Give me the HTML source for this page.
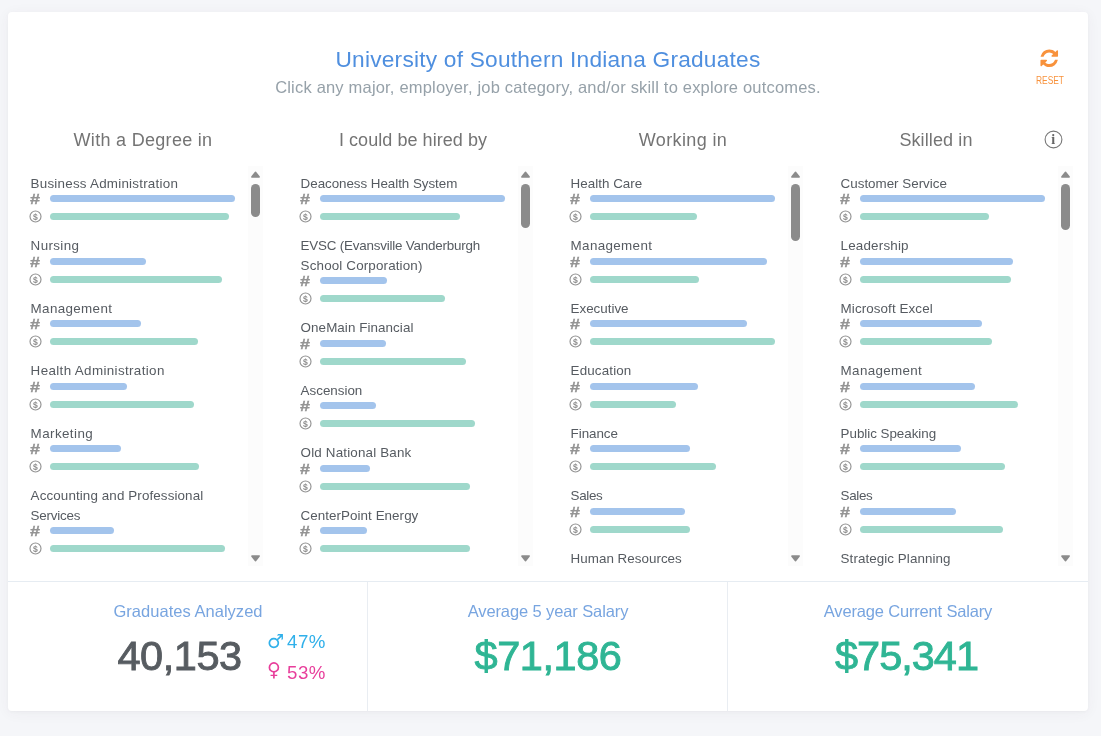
<!DOCTYPE html>
<html lang="en">
<head>
<meta charset="utf-8">
<title>University of Southern Indiana Graduates</title>
<style>
*{box-sizing:border-box;margin:0;padding:0}
html,body{width:1101px;height:736px;overflow:hidden}
body{background:#f5f6f9;font-family:"Liberation Sans",sans-serif;color:#575c61;position:relative}
.card{position:absolute;left:8px;top:12px;width:1080px;height:699px;background:#fff;border-radius:4px;box-shadow:0 1px 3px rgba(69,65,78,.04),0 2px 14px rgba(69,65,78,.05)}
.title{position:absolute;left:0;width:1080px;top:33px;text-align:center;font-size:22.7px;line-height:28px;color:#4f8fdf;font-weight:400;white-space:nowrap;letter-spacing:.22px}
.subtitle{position:absolute;left:0;width:1080px;top:64px;text-align:center;font-size:16.5px;line-height:22px;color:#96a1a9;white-space:nowrap;letter-spacing:.19px}
.reset{position:absolute;left:1021.7px;top:35.8px;width:40px;text-align:center;color:#f8923c}
.reset svg{display:block;margin:0 auto}
.reset span{display:block;font-size:10px;line-height:10px;margin-top:8px;letter-spacing:0;transform:scaleX(.84)}
.cols{position:absolute;left:0;top:0;width:1080px}
.col{position:absolute;top:0;width:270px}
.col h2{position:absolute;top:115px;left:0;width:270px;text-align:center;font-size:18px;line-height:26px;font-weight:400;color:#747474;white-space:nowrap}
.info{position:absolute;left:1036.4px;top:117.5px;width:19px;height:19px}
.list{position:absolute;top:154px;left:15px;width:240px;height:400px;overflow:hidden;padding-top:7px}
.track{position:absolute;top:154px;left:240px;width:15px;height:400px;background:#fcfcfc}
.track i,.track svg{position:absolute;left:3px;width:9px;display:block}
.track .up{top:5px;height:7px}
.track .dn{top:389px;height:7px}
.track .thumb{top:18px;background:#8b8b8b;border-radius:4.5px}
.item{padding-left:8px;margin-bottom:10px}
.name{font-size:13.4px;line-height:19.5px;color:#565b61;white-space:nowrap;position:relative;top:.8px;left:-.4px}
.row{height:18px;position:relative}
.row.n{margin-top:-3px}
.row b{position:absolute;left:-2px;top:0;width:14px;height:18px;font-weight:400;color:#999;text-align:center}
.hash{font-size:15px;line-height:18px;font-weight:700!important;transform:scaleX(1.2);color:#949494!important;-webkit-text-stroke:.35px #949494;left:-2.6px!important;top:.5px!important}
.dol svg{position:absolute;left:.3px;top:2.5px}
.bar{position:absolute;left:19px;top:5.5px;height:7px;border-radius:3.5px}
.n .bar{background:#a3c4ec}
.s .bar{background:#9fd8cb}
.stats{position:absolute;left:0;top:569px;width:1080px;height:130px;border-top:1px solid #e6ecf2}
.stat{position:absolute;top:0;width:360px;height:129px;text-align:center}
.stat+.stat{border-left:1px solid #e9edf2}
.stat h3{position:absolute;left:0;width:360px;top:17.3px;font-size:16.5px;line-height:24px;font-weight:400;color:#78a5e0;white-space:nowrap}
.big{position:absolute;left:0;width:360px;top:46.2px;font-size:41.5px;letter-spacing:-.45px;line-height:56px;font-weight:400;color:#2fb594;-webkit-text-stroke:.9px #2fb594;white-space:nowrap}
.num{color:#575c61;-webkit-text-stroke:.9px #575c61;text-align:left;left:109.5px;width:auto;letter-spacing:-.47px}
.gender{position:absolute;left:259px;font-size:18.7px;line-height:24px;white-space:nowrap;text-align:left;letter-spacing:.5px}
.gender.m{top:48.4px;color:#30b0ea}
.gender.f{top:78.6px;color:#e83e9b}
.gender .sym{position:absolute;left:0;top:-2px;font-family:"DejaVu Sans",sans-serif;font-size:19px;letter-spacing:0}
.gender .pct{position:absolute;left:20px;top:0}
.gender.m .sym{top:-1px}
.gender.f .sym{top:-3.2px}
</style>
</head>
<body>
<div class="card">
  <h1 class="title">University of Southern Indiana Graduates</h1>
  <p class="subtitle">Click any major, employer, job category, and/or skill to explore outcomes.</p>
  <div class="reset">
    <svg width="20.5" height="20.5" viewBox="0 0 1792 1792"><path fill="#f8923c" d="M1639 1056q0 5-1 7-64 268-268 434.500t-478 166.500q-146 0-282.500-55t-243.500-157l-129 129q-19 19-45 19t-45-19-19-45v-448q0-26 19-45t45-19h448q26 0 45 19t19 45-19 45l-137 137q71 66 161 102t187 36q134 0 250-65t186-179q11-17 53-117 8-23 30-23h192q13 0 22.500 9.500t9.500 22.500zm25-800v448q0 26-19 45t-45 19h-448q-26 0-45-19t-19-45 19-45l138-138q-148-137-349-137-134 0-250 65t-186 179q-11 17-53 117-8 23-30 23h-199q-13 0-22.500-9.500t-9.500-22.500v-7q65-268 270-434.500t480-166.500q146 0 284 55.500t245 156.500l130-129q19-19 45-19t45 19 19 45z"/></svg>
    <span>RESET</span>
  </div>
  <div class="info"><svg width="19" height="19" viewBox="0 0 19 19"><circle cx="9.5" cy="9.5" r="8.4" fill="none" stroke="#777" stroke-width="1.1"/><text x="9.2" y="13.8" text-anchor="middle" font-family="Liberation Serif, serif" font-weight="700" font-size="14" fill="#666">i</text></svg></div>
  <div class="cols">
    <section class="col c1" style="left:0px">
  <h2 style="letter-spacing:.3px">With a Degree in</h2>
  <div class="list">
    <div class="item"><div class="name"><span style="letter-spacing:0.23px">Business Administration</span></div>
      <div class="row n"><b class="hash">#</b><span class="bar" style="width:185px"></span></div>
      <div class="row s"><b class="dol"><svg viewBox="0 0 13 13" width="13" height="13"><circle cx="6.5" cy="6.5" r="5.5" fill="none" stroke="#939393" stroke-width="1.15"/><text x="6.5" y="9.5" text-anchor="middle" font-size="8.6" font-weight="700" fill="#8e8e8e" font-family="Liberation Sans, sans-serif">$</text></svg></b><span class="bar" style="width:179px"></span></div></div>
    <div class="item"><div class="name"><span style="letter-spacing:0.37px">Nursing</span></div>
      <div class="row n"><b class="hash">#</b><span class="bar" style="width:96px"></span></div>
      <div class="row s"><b class="dol"><svg viewBox="0 0 13 13" width="13" height="13"><circle cx="6.5" cy="6.5" r="5.5" fill="none" stroke="#939393" stroke-width="1.15"/><text x="6.5" y="9.5" text-anchor="middle" font-size="8.6" font-weight="700" fill="#8e8e8e" font-family="Liberation Sans, sans-serif">$</text></svg></b><span class="bar" style="width:172px"></span></div></div>
    <div class="item"><div class="name"><span style="letter-spacing:0.35px">Management</span></div>
      <div class="row n"><b class="hash">#</b><span class="bar" style="width:91px"></span></div>
      <div class="row s"><b class="dol"><svg viewBox="0 0 13 13" width="13" height="13"><circle cx="6.5" cy="6.5" r="5.5" fill="none" stroke="#939393" stroke-width="1.15"/><text x="6.5" y="9.5" text-anchor="middle" font-size="8.6" font-weight="700" fill="#8e8e8e" font-family="Liberation Sans, sans-serif">$</text></svg></b><span class="bar" style="width:148px"></span></div></div>
    <div class="item"><div class="name"><span style="letter-spacing:0.36px">Health Administration</span></div>
      <div class="row n"><b class="hash">#</b><span class="bar" style="width:77px"></span></div>
      <div class="row s"><b class="dol"><svg viewBox="0 0 13 13" width="13" height="13"><circle cx="6.5" cy="6.5" r="5.5" fill="none" stroke="#939393" stroke-width="1.15"/><text x="6.5" y="9.5" text-anchor="middle" font-size="8.6" font-weight="700" fill="#8e8e8e" font-family="Liberation Sans, sans-serif">$</text></svg></b><span class="bar" style="width:144px"></span></div></div>
    <div class="item"><div class="name"><span style="letter-spacing:0.41px">Marketing</span></div>
      <div class="row n"><b class="hash">#</b><span class="bar" style="width:71px"></span></div>
      <div class="row s"><b class="dol"><svg viewBox="0 0 13 13" width="13" height="13"><circle cx="6.5" cy="6.5" r="5.5" fill="none" stroke="#939393" stroke-width="1.15"/><text x="6.5" y="9.5" text-anchor="middle" font-size="8.6" font-weight="700" fill="#8e8e8e" font-family="Liberation Sans, sans-serif">$</text></svg></b><span class="bar" style="width:149px"></span></div></div>
    <div class="item"><div class="name"><span style="letter-spacing:0.11px">Accounting and Professional</span><br><span style="letter-spacing:-0.22px">Services</span></div>
      <div class="row n"><b class="hash">#</b><span class="bar" style="width:64px"></span></div>
      <div class="row s"><b class="dol"><svg viewBox="0 0 13 13" width="13" height="13"><circle cx="6.5" cy="6.5" r="5.5" fill="none" stroke="#939393" stroke-width="1.15"/><text x="6.5" y="9.5" text-anchor="middle" font-size="8.6" font-weight="700" fill="#8e8e8e" font-family="Liberation Sans, sans-serif">$</text></svg></b><span class="bar" style="width:175px"></span></div></div>
  </div>
  <div class="track"><svg class="up" viewBox="0 0 9 7"><path d="M4.5 1.5 7.9 5.9H1.1z" fill="#8b8b8b" stroke="#8b8b8b" stroke-width="1.9" stroke-linejoin="round"/></svg><i class="thumb" style="height:33px"></i><svg class="dn" viewBox="0 0 9 7"><path d="M4.5 5.5 7.9 1.1H1.1z" fill="#8b8b8b" stroke="#8b8b8b" stroke-width="1.9" stroke-linejoin="round"/></svg></div>
</section>
<section class="col c2" style="left:270px">
  <h2 style="letter-spacing:.06px">I could be hired by</h2>
  <div class="list">
    <div class="item"><div class="name"><span style="letter-spacing:-0.05px">Deaconess Health System</span></div>
      <div class="row n"><b class="hash">#</b><span class="bar" style="width:185px"></span></div>
      <div class="row s"><b class="dol"><svg viewBox="0 0 13 13" width="13" height="13"><circle cx="6.5" cy="6.5" r="5.5" fill="none" stroke="#939393" stroke-width="1.15"/><text x="6.5" y="9.5" text-anchor="middle" font-size="8.6" font-weight="700" fill="#8e8e8e" font-family="Liberation Sans, sans-serif">$</text></svg></b><span class="bar" style="width:140px"></span></div></div>
    <div class="item"><div class="name"><span style="letter-spacing:-0.20px">EVSC (Evansville Vanderburgh</span><br><span style="letter-spacing:0.15px">School Corporation)</span></div>
      <div class="row n"><b class="hash">#</b><span class="bar" style="width:67px"></span></div>
      <div class="row s"><b class="dol"><svg viewBox="0 0 13 13" width="13" height="13"><circle cx="6.5" cy="6.5" r="5.5" fill="none" stroke="#939393" stroke-width="1.15"/><text x="6.5" y="9.5" text-anchor="middle" font-size="8.6" font-weight="700" fill="#8e8e8e" font-family="Liberation Sans, sans-serif">$</text></svg></b><span class="bar" style="width:125px"></span></div></div>
    <div class="item"><div class="name"><span style="letter-spacing:0.07px">OneMain Financial</span></div>
      <div class="row n"><b class="hash">#</b><span class="bar" style="width:66px"></span></div>
      <div class="row s"><b class="dol"><svg viewBox="0 0 13 13" width="13" height="13"><circle cx="6.5" cy="6.5" r="5.5" fill="none" stroke="#939393" stroke-width="1.15"/><text x="6.5" y="9.5" text-anchor="middle" font-size="8.6" font-weight="700" fill="#8e8e8e" font-family="Liberation Sans, sans-serif">$</text></svg></b><span class="bar" style="width:146px"></span></div></div>
    <div class="item"><div class="name"><span style="letter-spacing:-0.01px">Ascension</span></div>
      <div class="row n"><b class="hash">#</b><span class="bar" style="width:56px"></span></div>
      <div class="row s"><b class="dol"><svg viewBox="0 0 13 13" width="13" height="13"><circle cx="6.5" cy="6.5" r="5.5" fill="none" stroke="#939393" stroke-width="1.15"/><text x="6.5" y="9.5" text-anchor="middle" font-size="8.6" font-weight="700" fill="#8e8e8e" font-family="Liberation Sans, sans-serif">$</text></svg></b><span class="bar" style="width:155px"></span></div></div>
    <div class="item"><div class="name"><span style="letter-spacing:0.17px">Old National Bank</span></div>
      <div class="row n"><b class="hash">#</b><span class="bar" style="width:50px"></span></div>
      <div class="row s"><b class="dol"><svg viewBox="0 0 13 13" width="13" height="13"><circle cx="6.5" cy="6.5" r="5.5" fill="none" stroke="#939393" stroke-width="1.15"/><text x="6.5" y="9.5" text-anchor="middle" font-size="8.6" font-weight="700" fill="#8e8e8e" font-family="Liberation Sans, sans-serif">$</text></svg></b><span class="bar" style="width:150px"></span></div></div>
    <div class="item"><div class="name"><span style="letter-spacing:0.05px">CenterPoint Energy</span></div>
      <div class="row n"><b class="hash">#</b><span class="bar" style="width:47px"></span></div>
      <div class="row s"><b class="dol"><svg viewBox="0 0 13 13" width="13" height="13"><circle cx="6.5" cy="6.5" r="5.5" fill="none" stroke="#939393" stroke-width="1.15"/><text x="6.5" y="9.5" text-anchor="middle" font-size="8.6" font-weight="700" fill="#8e8e8e" font-family="Liberation Sans, sans-serif">$</text></svg></b><span class="bar" style="width:150px"></span></div></div>
  </div>
  <div class="track"><svg class="up" viewBox="0 0 9 7"><path d="M4.5 1.5 7.9 5.9H1.1z" fill="#8b8b8b" stroke="#8b8b8b" stroke-width="1.9" stroke-linejoin="round"/></svg><i class="thumb" style="height:44px"></i><svg class="dn" viewBox="0 0 9 7"><path d="M4.5 5.5 7.9 1.1H1.1z" fill="#8b8b8b" stroke="#8b8b8b" stroke-width="1.9" stroke-linejoin="round"/></svg></div>
</section>
<section class="col c3" style="left:540px">
  <h2 style="letter-spacing:.38px">Working in</h2>
  <div class="list">
    <div class="item"><div class="name"><span style="letter-spacing:0.02px">Health Care</span></div>
      <div class="row n"><b class="hash">#</b><span class="bar" style="width:185px"></span></div>
      <div class="row s"><b class="dol"><svg viewBox="0 0 13 13" width="13" height="13"><circle cx="6.5" cy="6.5" r="5.5" fill="none" stroke="#939393" stroke-width="1.15"/><text x="6.5" y="9.5" text-anchor="middle" font-size="8.6" font-weight="700" fill="#8e8e8e" font-family="Liberation Sans, sans-serif">$</text></svg></b><span class="bar" style="width:107px"></span></div></div>
    <div class="item"><div class="name"><span style="letter-spacing:0.35px">Management</span></div>
      <div class="row n"><b class="hash">#</b><span class="bar" style="width:177px"></span></div>
      <div class="row s"><b class="dol"><svg viewBox="0 0 13 13" width="13" height="13"><circle cx="6.5" cy="6.5" r="5.5" fill="none" stroke="#939393" stroke-width="1.15"/><text x="6.5" y="9.5" text-anchor="middle" font-size="8.6" font-weight="700" fill="#8e8e8e" font-family="Liberation Sans, sans-serif">$</text></svg></b><span class="bar" style="width:109px"></span></div></div>
    <div class="item"><div class="name"><span style="letter-spacing:-0.02px">Executive</span></div>
      <div class="row n"><b class="hash">#</b><span class="bar" style="width:157px"></span></div>
      <div class="row s"><b class="dol"><svg viewBox="0 0 13 13" width="13" height="13"><circle cx="6.5" cy="6.5" r="5.5" fill="none" stroke="#939393" stroke-width="1.15"/><text x="6.5" y="9.5" text-anchor="middle" font-size="8.6" font-weight="700" fill="#8e8e8e" font-family="Liberation Sans, sans-serif">$</text></svg></b><span class="bar" style="width:185px"></span></div></div>
    <div class="item"><div class="name"><span style="letter-spacing:0.14px">Education</span></div>
      <div class="row n"><b class="hash">#</b><span class="bar" style="width:108px"></span></div>
      <div class="row s"><b class="dol"><svg viewBox="0 0 13 13" width="13" height="13"><circle cx="6.5" cy="6.5" r="5.5" fill="none" stroke="#939393" stroke-width="1.15"/><text x="6.5" y="9.5" text-anchor="middle" font-size="8.6" font-weight="700" fill="#8e8e8e" font-family="Liberation Sans, sans-serif">$</text></svg></b><span class="bar" style="width:86px"></span></div></div>
    <div class="item"><div class="name"><span style="letter-spacing:-0.06px">Finance</span></div>
      <div class="row n"><b class="hash">#</b><span class="bar" style="width:100px"></span></div>
      <div class="row s"><b class="dol"><svg viewBox="0 0 13 13" width="13" height="13"><circle cx="6.5" cy="6.5" r="5.5" fill="none" stroke="#939393" stroke-width="1.15"/><text x="6.5" y="9.5" text-anchor="middle" font-size="8.6" font-weight="700" fill="#8e8e8e" font-family="Liberation Sans, sans-serif">$</text></svg></b><span class="bar" style="width:126px"></span></div></div>
    <div class="item"><div class="name"><span style="letter-spacing:-0.35px">Sales</span></div>
      <div class="row n"><b class="hash">#</b><span class="bar" style="width:95px"></span></div>
      <div class="row s"><b class="dol"><svg viewBox="0 0 13 13" width="13" height="13"><circle cx="6.5" cy="6.5" r="5.5" fill="none" stroke="#939393" stroke-width="1.15"/><text x="6.5" y="9.5" text-anchor="middle" font-size="8.6" font-weight="700" fill="#8e8e8e" font-family="Liberation Sans, sans-serif">$</text></svg></b><span class="bar" style="width:100px"></span></div></div>
    <div class="item"><div class="name"><span style="letter-spacing:0.02px">Human Resources</span></div>
      <div class="row n"><b class="hash">#</b><span class="bar" style="width:90px"></span></div>
      <div class="row s"><b class="dol"><svg viewBox="0 0 13 13" width="13" height="13"><circle cx="6.5" cy="6.5" r="5.5" fill="none" stroke="#939393" stroke-width="1.15"/><text x="6.5" y="9.5" text-anchor="middle" font-size="8.6" font-weight="700" fill="#8e8e8e" font-family="Liberation Sans, sans-serif">$</text></svg></b><span class="bar" style="width:110px"></span></div></div>
  </div>
  <div class="track"><svg class="up" viewBox="0 0 9 7"><path d="M4.5 1.5 7.9 5.9H1.1z" fill="#8b8b8b" stroke="#8b8b8b" stroke-width="1.9" stroke-linejoin="round"/></svg><i class="thumb" style="height:57px"></i><svg class="dn" viewBox="0 0 9 7"><path d="M4.5 5.5 7.9 1.1H1.1z" fill="#8b8b8b" stroke="#8b8b8b" stroke-width="1.9" stroke-linejoin="round"/></svg></div>
</section>
<section class="col c4" style="left:810px">
  <h2 style="letter-spacing:.12px;left:-17px">Skilled in</h2>
  <div class="list">
    <div class="item"><div class="name"><span style="letter-spacing:-0.01px">Customer Service</span></div>
      <div class="row n"><b class="hash">#</b><span class="bar" style="width:185px"></span></div>
      <div class="row s"><b class="dol"><svg viewBox="0 0 13 13" width="13" height="13"><circle cx="6.5" cy="6.5" r="5.5" fill="none" stroke="#939393" stroke-width="1.15"/><text x="6.5" y="9.5" text-anchor="middle" font-size="8.6" font-weight="700" fill="#8e8e8e" font-family="Liberation Sans, sans-serif">$</text></svg></b><span class="bar" style="width:129px"></span></div></div>
    <div class="item"><div class="name"><span style="letter-spacing:0.18px">Leadership</span></div>
      <div class="row n"><b class="hash">#</b><span class="bar" style="width:153px"></span></div>
      <div class="row s"><b class="dol"><svg viewBox="0 0 13 13" width="13" height="13"><circle cx="6.5" cy="6.5" r="5.5" fill="none" stroke="#939393" stroke-width="1.15"/><text x="6.5" y="9.5" text-anchor="middle" font-size="8.6" font-weight="700" fill="#8e8e8e" font-family="Liberation Sans, sans-serif">$</text></svg></b><span class="bar" style="width:151px"></span></div></div>
    <div class="item"><div class="name"><span style="letter-spacing:0.09px">Microsoft Excel</span></div>
      <div class="row n"><b class="hash">#</b><span class="bar" style="width:122px"></span></div>
      <div class="row s"><b class="dol"><svg viewBox="0 0 13 13" width="13" height="13"><circle cx="6.5" cy="6.5" r="5.5" fill="none" stroke="#939393" stroke-width="1.15"/><text x="6.5" y="9.5" text-anchor="middle" font-size="8.6" font-weight="700" fill="#8e8e8e" font-family="Liberation Sans, sans-serif">$</text></svg></b><span class="bar" style="width:132px"></span></div></div>
    <div class="item"><div class="name"><span style="letter-spacing:0.34px">Management</span></div>
      <div class="row n"><b class="hash">#</b><span class="bar" style="width:115px"></span></div>
      <div class="row s"><b class="dol"><svg viewBox="0 0 13 13" width="13" height="13"><circle cx="6.5" cy="6.5" r="5.5" fill="none" stroke="#939393" stroke-width="1.15"/><text x="6.5" y="9.5" text-anchor="middle" font-size="8.6" font-weight="700" fill="#8e8e8e" font-family="Liberation Sans, sans-serif">$</text></svg></b><span class="bar" style="width:158px"></span></div></div>
    <div class="item"><div class="name"><span style="letter-spacing:-0.04px">Public Speaking</span></div>
      <div class="row n"><b class="hash">#</b><span class="bar" style="width:101px"></span></div>
      <div class="row s"><b class="dol"><svg viewBox="0 0 13 13" width="13" height="13"><circle cx="6.5" cy="6.5" r="5.5" fill="none" stroke="#939393" stroke-width="1.15"/><text x="6.5" y="9.5" text-anchor="middle" font-size="8.6" font-weight="700" fill="#8e8e8e" font-family="Liberation Sans, sans-serif">$</text></svg></b><span class="bar" style="width:145px"></span></div></div>
    <div class="item"><div class="name"><span style="letter-spacing:-0.35px">Sales</span></div>
      <div class="row n"><b class="hash">#</b><span class="bar" style="width:96px"></span></div>
      <div class="row s"><b class="dol"><svg viewBox="0 0 13 13" width="13" height="13"><circle cx="6.5" cy="6.5" r="5.5" fill="none" stroke="#939393" stroke-width="1.15"/><text x="6.5" y="9.5" text-anchor="middle" font-size="8.6" font-weight="700" fill="#8e8e8e" font-family="Liberation Sans, sans-serif">$</text></svg></b><span class="bar" style="width:143px"></span></div></div>
    <div class="item"><div class="name"><span style="letter-spacing:0.07px">Strategic Planning</span></div>
      <div class="row n"><b class="hash">#</b><span class="bar" style="width:90px"></span></div>
      <div class="row s"><b class="dol"><svg viewBox="0 0 13 13" width="13" height="13"><circle cx="6.5" cy="6.5" r="5.5" fill="none" stroke="#939393" stroke-width="1.15"/><text x="6.5" y="9.5" text-anchor="middle" font-size="8.6" font-weight="700" fill="#8e8e8e" font-family="Liberation Sans, sans-serif">$</text></svg></b><span class="bar" style="width:140px"></span></div></div>
  </div>
  <div class="track"><svg class="up" viewBox="0 0 9 7"><path d="M4.5 1.5 7.9 5.9H1.1z" fill="#8b8b8b" stroke="#8b8b8b" stroke-width="1.9" stroke-linejoin="round"/></svg><i class="thumb" style="height:46px"></i><svg class="dn" viewBox="0 0 9 7"><path d="M4.5 5.5 7.9 1.1H1.1z" fill="#8b8b8b" stroke="#8b8b8b" stroke-width="1.9" stroke-linejoin="round"/></svg></div>
</section>
  </div>
  <div class="stats">
    <div class="stat s1" style="left:0">
      <h3 style="letter-spacing:.03px">Graduates Analyzed</h3>
      <div class="big num">40,153</div>
      <div class="gender m"><span class="sym">&#9794;</span><span class="pct">47%</span></div>
      <div class="gender f"><span class="sym">&#9792;</span><span class="pct">53%</span></div>
    </div>
    <div class="stat s2" style="left:359px">
      <h3 style="letter-spacing:-.11px">Average 5 year Salary</h3>
      <div class="big">$71,186</div>
    </div>
    <div class="stat s3" style="left:719px">
      <h3 style="letter-spacing:-.17px">Average Current Salary</h3>
      <div class="big" style="letter-spacing:-1px;left:-1.5px">$75,341</div>
    </div>
  </div>
</div>
</body>
</html>
